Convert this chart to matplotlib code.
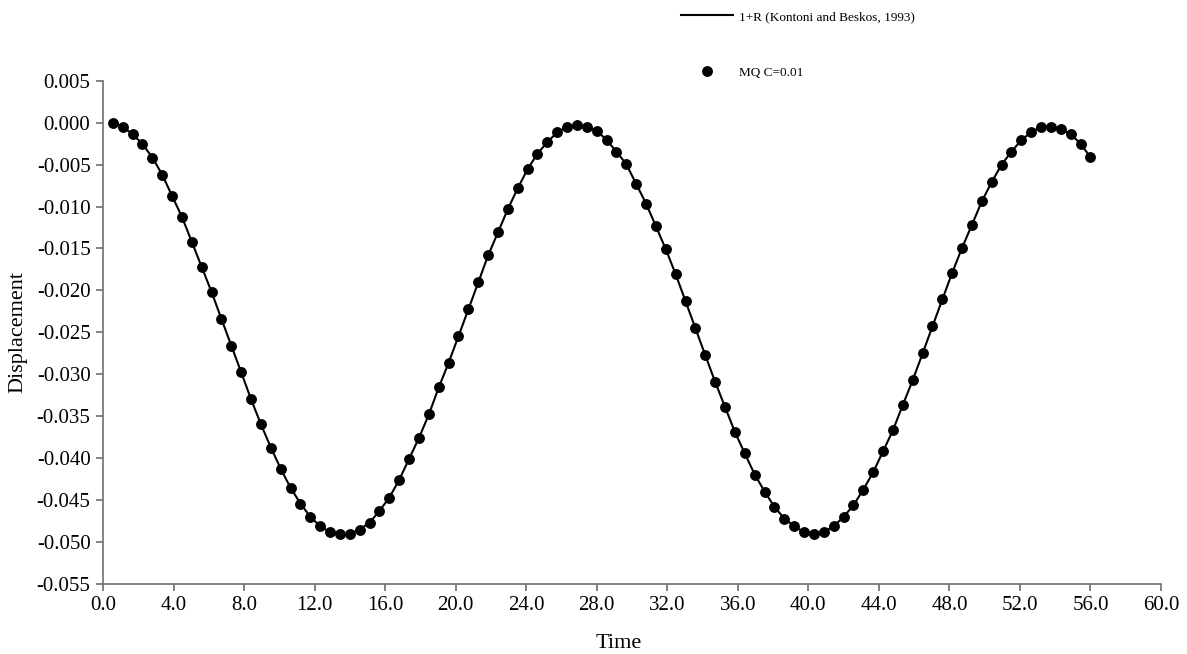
import matplotlib
matplotlib.use("Agg")
import matplotlib.pyplot as plt
from matplotlib.ticker import FuncFormatter, MultipleLocator

time = [0.56, 1.12, 1.68, 2.24, 2.80, 3.36, 3.92, 4.48, 5.04, 5.60,
        6.16, 6.72, 7.28, 7.84, 8.40, 8.96, 9.52, 10.08, 10.64, 11.20,
        11.76, 12.32, 12.88, 13.44, 14.00, 14.56, 15.12, 15.68, 16.24, 16.80,
        17.36, 17.92, 18.48, 19.04, 19.60, 20.16, 20.72, 21.28, 21.84, 22.40,
        22.96, 23.52, 24.08, 24.64, 25.20, 25.76, 26.32, 26.88, 27.44, 28.00,
        28.56, 29.12, 29.68, 30.24, 30.80, 31.36, 31.92, 32.48, 33.04, 33.60,
        34.16, 34.72, 35.28, 35.84, 36.40, 36.96, 37.52, 38.08, 38.64, 39.20,
        39.76, 40.32, 40.88, 41.44, 42.00, 42.56, 43.12, 43.68, 44.24, 44.80,
        45.36, 45.92, 46.48, 47.04, 47.60, 48.16, 48.72, 49.28, 49.84, 50.40,
        50.96, 51.52, 52.08, 52.64, 53.20, 53.76, 54.32, 54.88, 55.44, 56.00]

displacement = [0.00000, -0.00048, -0.00139, -0.00254, -0.00417, -0.00620, -0.00875, -0.01125, -0.01423, -0.01722,
                -0.02020, -0.02342, -0.02660, -0.02978, -0.03300, -0.03598, -0.03873, -0.04127, -0.04354, -0.04541,
                -0.04700, -0.04811, -0.04883, -0.04907, -0.04903, -0.04851, -0.04767, -0.04628, -0.04469, -0.04258,
                -0.04008, -0.03757, -0.03479, -0.03157, -0.02863, -0.02545, -0.02227, -0.01905, -0.01583, -0.01308,
                -0.01030, -0.00783, -0.00553, -0.00370, -0.00231, -0.00115, -0.00052, -0.00028, -0.00048, -0.00095,
                -0.00207, -0.00346, -0.00497, -0.00732, -0.00966, -0.01237, -0.01511, -0.01809, -0.02131, -0.02453,
                -0.02775, -0.03093, -0.03392, -0.03690, -0.03944, -0.04195, -0.04398, -0.04581, -0.04720, -0.04811,
                -0.04883, -0.04907, -0.04883, -0.04811, -0.04700, -0.04561, -0.04374, -0.04167, -0.03917, -0.03666,
                -0.03364, -0.03070, -0.02751, -0.02429, -0.02107, -0.01789, -0.01491, -0.01217, -0.00938, -0.00708,
                -0.00501, -0.00346, -0.00207, -0.00115, -0.00048, -0.00048, -0.00072, -0.00139, -0.00250, -0.00414]

line_label = "1+R (Kontoni and Beskos, 1993)"
dot_label = "MQ C=0.01"
x_label = "Time"
y_label = "Displacement"

plt.rcParams['font.family'] = ['Liberation Serif', 'DejaVu Serif']

fig = plt.figure(figsize=(11.87, 6.54), dpi=100)
ax = fig.add_axes([103/1187, (654-584)/654, (1161-103)/1187, (584-80.7)/654])

ax.plot(time, displacement, color='black', linewidth=1.5, label=line_label, zorder=2)
ax.plot(time, displacement, linestyle='none', marker='o', markersize=6.8,
        color='black', label=dot_label, zorder=3)

ax.set_xlim(0, 60)
ax.set_ylim(-0.055, 0.005)
ax.xaxis.set_major_locator(MultipleLocator(4))
ax.yaxis.set_major_locator(MultipleLocator(0.005))
ax.xaxis.set_major_formatter(FuncFormatter(lambda v, p: f"{v:.1f}"))
ax.yaxis.set_major_formatter(FuncFormatter(lambda v, p: ("0.000" if abs(v) < 1e-9 else f"{v:.3f}")))

for s in ['top', 'right']:
    ax.spines[s].set_visible(False)
for s in ['left', 'bottom']:
    ax.spines[s].set_color('#6e6e6e')
    ax.spines[s].set_linewidth(1.2)
ax.tick_params(axis='both', direction='out', length=5, width=1.2, color='#6e6e6e',
               labelsize=15, labelcolor='black', pad=4)

ax.set_xlabel(x_label, fontsize=16)
ax.set_ylabel(y_label, fontsize=16)
ax.xaxis.set_label_coords((619 - 103) / 1058, -(643 - 584) / 503.3)
ax.xaxis.label.set_va('center')
ax.yaxis.set_label_coords(-(103 - 18) / 1058, 0.5)
ax.yaxis.label.set_va('center')

fig.legend(loc='upper left', bbox_to_anchor=(670/1187, 1.0), frameon=False,
           fontsize=9.5, handlelength=4.0, handletextpad=0.4, labelspacing=3.3,
           borderpad=0.3, markerscale=1.0)

fig.savefig("out.png", dpi=100)
